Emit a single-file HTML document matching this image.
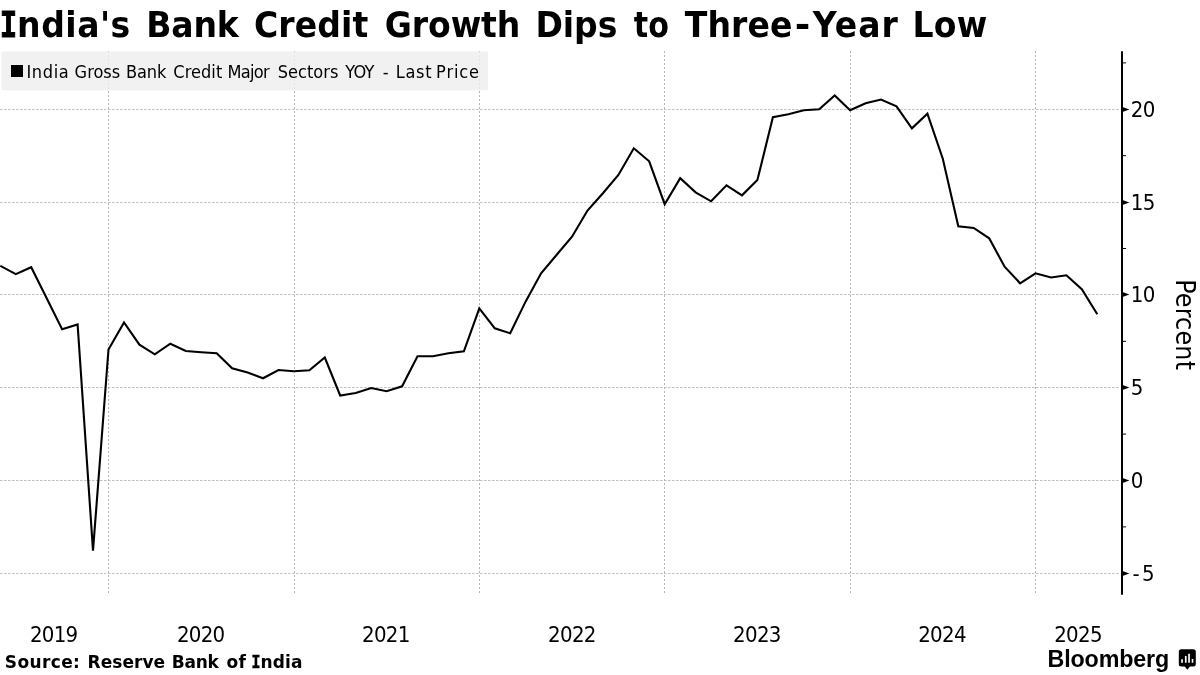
<!DOCTYPE html>
<html lang="en"><head><meta charset="utf-8"><title>India's Bank Credit Growth Dips to Three-Year Low</title>
<style>html,body{margin:0;padding:0;background:#fff}body{width:1200px;height:675px;overflow:hidden}svg{display:block}.n{font-family:'DejaVu Sans Condensed','DejaVu Sans','Liberation Sans',sans-serif;font-stretch:condensed;font-size:22px;fill:#000;letter-spacing:-0.7px}.t{font-family:'DejaVu Sans','Liberation Sans',sans-serif;font-weight:bold;font-size:35px;fill:#000}</style></head><body>
<svg width="1200" height="675" viewBox="0 0 1200 675">
<rect width="1200" height="675" fill="#fff"/>
<path d="M0 109.5H1120.0M0 202.5H1120.0M0 294.5H1120.0M0 387.5H1120.0M0 480.5H1120.0M0 573.5H1120.0" fill="none" stroke="#c2c2c2" stroke-width="1" stroke-dasharray="2.6 1.4"/>
<path d="M108.5 51.2V593.5M294.5 51.2V593.5M479.5 51.2V593.5M664.5 51.2V593.5M850.5 51.2V593.5M1035.5 51.2V593.5" fill="none" stroke="#a8a8a8" stroke-width="1" stroke-dasharray="1.7 2.3"/>
<rect x="1.2" y="51.5" width="486.9" height="38.8" rx="2" ry="2" fill="#eeeeee" fill-opacity="0.84"/>
<path d="M1122.0 51.2V594.8" stroke="#000" stroke-width="2" fill="none"/>
<path d="M1122.0 62.9h4M1122.0 155.7h4M1122.0 248.5h4M1122.0 341.3h4M1122.0 434.1h4M1122.0 526.9h4" stroke="#000" stroke-width="1" fill="none"/>
<path d="M1122.5 106.9L1129.4 109.5L1122.5 112.1Z" fill="#000"/>
<path d="M1122.5 199.9L1129.4 202.5L1122.5 205.1Z" fill="#000"/>
<path d="M1122.5 291.9L1129.4 294.5L1122.5 297.1Z" fill="#000"/>
<path d="M1122.5 384.9L1129.4 387.5L1122.5 390.1Z" fill="#000"/>
<path d="M1122.5 477.9L1129.4 480.5L1122.5 483.1Z" fill="#000"/>
<path d="M1122.5 570.9L1129.4 573.5L1122.5 576.1Z" fill="#000"/>
<text class="n" x="1130.8" y="117.0">20</text>
<text class="n" x="1130.8" y="210.0">15</text>
<text class="n" x="1130.8" y="302.0">10</text>
<text class="n" x="1130.8" y="395.0">5</text>
<text class="n" x="1130.8" y="488.0">0</text>
<text class="n" x="1132.6" y="581.0">-<tspan x="1141.9">5</tspan></text>
<polyline points="0.3,265.8 15.8,274.2 31.2,267.2 46.7,298.2 62.1,329.2 77.6,324.5 93.0,550.7 108.5,349.5 124.0,322.5 139.4,344.7 154.8,354.3 170.3,343.7 185.8,351.0 201.2,352.2 216.7,353.3 232.1,368.3 247.6,372.5 263.0,378.3 278.5,370.0 293.9,371.3 309.4,370.3 324.8,357.5 340.2,395.5 355.7,393.0 371.2,388.0 386.6,391.2 402.1,386.3 417.5,356.3 433.0,356.3 448.4,353.3 463.9,351.3 479.3,308.3 494.8,328.3 510.2,333.3 525.7,301.4 541.1,273.3 556.5,255.0 572.0,236.7 587.5,210.5 602.9,193.3 618.4,175.0 633.8,148.3 649.2,161.3 664.7,204.2 680.2,178.2 695.6,192.3 711.1,201.3 726.5,185.3 742.0,195.3 757.4,180.0 772.9,117.2 788.3,114.2 803.8,110.3 819.2,109.3 834.7,95.5 850.1,110.3 865.6,103.2 881.0,99.6 896.5,106.3 911.9,128.3 927.4,113.7 942.8,158.7 958.3,226.3 973.7,228.0 989.2,238.3 1004.6,266.7 1020.1,283.3 1035.5,273.3 1051.0,277.5 1066.4,275.3 1081.8,289.2 1097.3,314.2" fill="none" stroke="#000" stroke-width="2.1" stroke-linejoin="miter" stroke-miterlimit="10"/>
<text class="n" x="53.7" y="642" text-anchor="middle">2019</text>
<text class="n" x="200.7" y="642" text-anchor="middle">2020</text>
<text class="n" x="385.8" y="642" text-anchor="middle">2021</text>
<text class="n" x="571.9" y="642" text-anchor="middle">2022</text>
<text class="n" x="756.9" y="642" text-anchor="middle">2023</text>
<text class="n" x="942" y="642" text-anchor="middle">2024</text>
<text class="n" x="1078" y="642" text-anchor="middle">2025</text>
<rect x="11" y="65" width="12" height="12" fill="#000"/>
<text y="77.8" font-family="'DejaVu Sans Condensed','DejaVu Sans','Liberation Sans',sans-serif" font-stretch="condensed" font-size="18" fill="#000" xml:space="preserve"><tspan x="26.40" style="letter-spacing:0.65px">India </tspan><tspan x="74.60" style="letter-spacing:-0.01px">Gross </tspan><tspan x="126.00" style="letter-spacing:-0.10px">Bank </tspan><tspan x="173.30" style="letter-spacing:0.06px">Credit </tspan><tspan x="227.50" style="letter-spacing:-0.68px">Major </tspan><tspan x="277.70" style="letter-spacing:0.04px">Sectors </tspan><tspan x="345.30" style="letter-spacing:-0.73px">YOY </tspan><tspan x="382.80" style="letter-spacing:0.00px">- </tspan><tspan x="395.70" style="letter-spacing:0.71px">Last </tspan><tspan x="436.10" style="letter-spacing:0.85px">Price</tspan></text>
<text class="t" y="36.8" transform="scale(0.945 1)" xml:space="preserve"><tspan x="-0.32" font-family="'DejaVu Sans Mono',monospace" style="letter-spacing:0" stroke="#000" stroke-width="1.0" textLength="18.52" lengthAdjust="spacingAndGlyphs">I</tspan><tspan x="18.11" style="letter-spacing:0.52px">ndia's </tspan><tspan x="154.73" style="letter-spacing:-0.19px">Bank </tspan><tspan x="268.73" style="letter-spacing:0.11px">Credit </tspan><tspan x="407.14" style="letter-spacing:-0.10px">Growth </tspan><tspan x="566.58" style="letter-spacing:-0.07px">Dips </tspan><tspan x="670.69" style="letter-spacing:0" textLength="37.18" lengthAdjust="spacingAndGlyphs">to</tspan><tspan> </tspan><tspan x="724.66" style="letter-spacing:0.10px">Three</tspan><tspan x="841.00" style="letter-spacing:0" textLength="16.47" lengthAdjust="spacingAndGlyphs">-</tspan><tspan></tspan><tspan x="860.12" style="letter-spacing:1.05px">Year </tspan><tspan x="965.52" style="letter-spacing:0.28px">Low</tspan></text>
<text transform="translate(1175.6 279.13) rotate(90)" font-family="'DejaVu Sans Condensed','DejaVu Sans','Liberation Sans',sans-serif" font-stretch="condensed" font-size="26.5" fill="#000" style="letter-spacing:0.225px">Percent</text>
<text y="668" font-family="'DejaVu Sans','Liberation Sans',sans-serif" font-weight="bold" font-size="17" fill="#000" xml:space="preserve"><tspan x="4.80" style="letter-spacing:0.38px">Source: </tspan><tspan x="87.60" style="letter-spacing:0.03px">Reserve </tspan><tspan x="171.80" style="letter-spacing:-0.24px">Bank </tspan><tspan x="226.60" style="letter-spacing:0.12px">of </tspan><tspan x="251.20" font-family="'DejaVu Sans Mono',monospace" style="letter-spacing:0" stroke="#000" stroke-width="0.3" textLength="9.40" lengthAdjust="spacingAndGlyphs">I</tspan><tspan x="260.60" style="letter-spacing:0.07px">ndia</tspan></text>
<text x="1047.6" y="666.5" font-family="'Liberation Sans',sans-serif" font-weight="bold" font-size="23.3" fill="#000" style="letter-spacing:-0.168px">Bloomberg</text>
<path d="M1181.3 649.2h12a2.5 2.5 0 0 1 2.5 2.5v12.3a2.5 2.5 0 0 1 -2.5 2.5h-3.4l-2.6 3.3l-2.6 -3.3h-3.4a2.5 2.5 0 0 1 -2.5 -2.5v-12.3a2.5 2.5 0 0 1 2.5 -2.5z" fill="#000"/>
<path d="M1181.2 659.2h1.7v3.6h-1.7zM1184.9 656h1.7v6.8h-1.7zM1188.2 653.7h1.7v9.1h-1.7zM1191.7 659h1.6v3.8h-1.6z" fill="#fff"/>
</svg></body></html>
